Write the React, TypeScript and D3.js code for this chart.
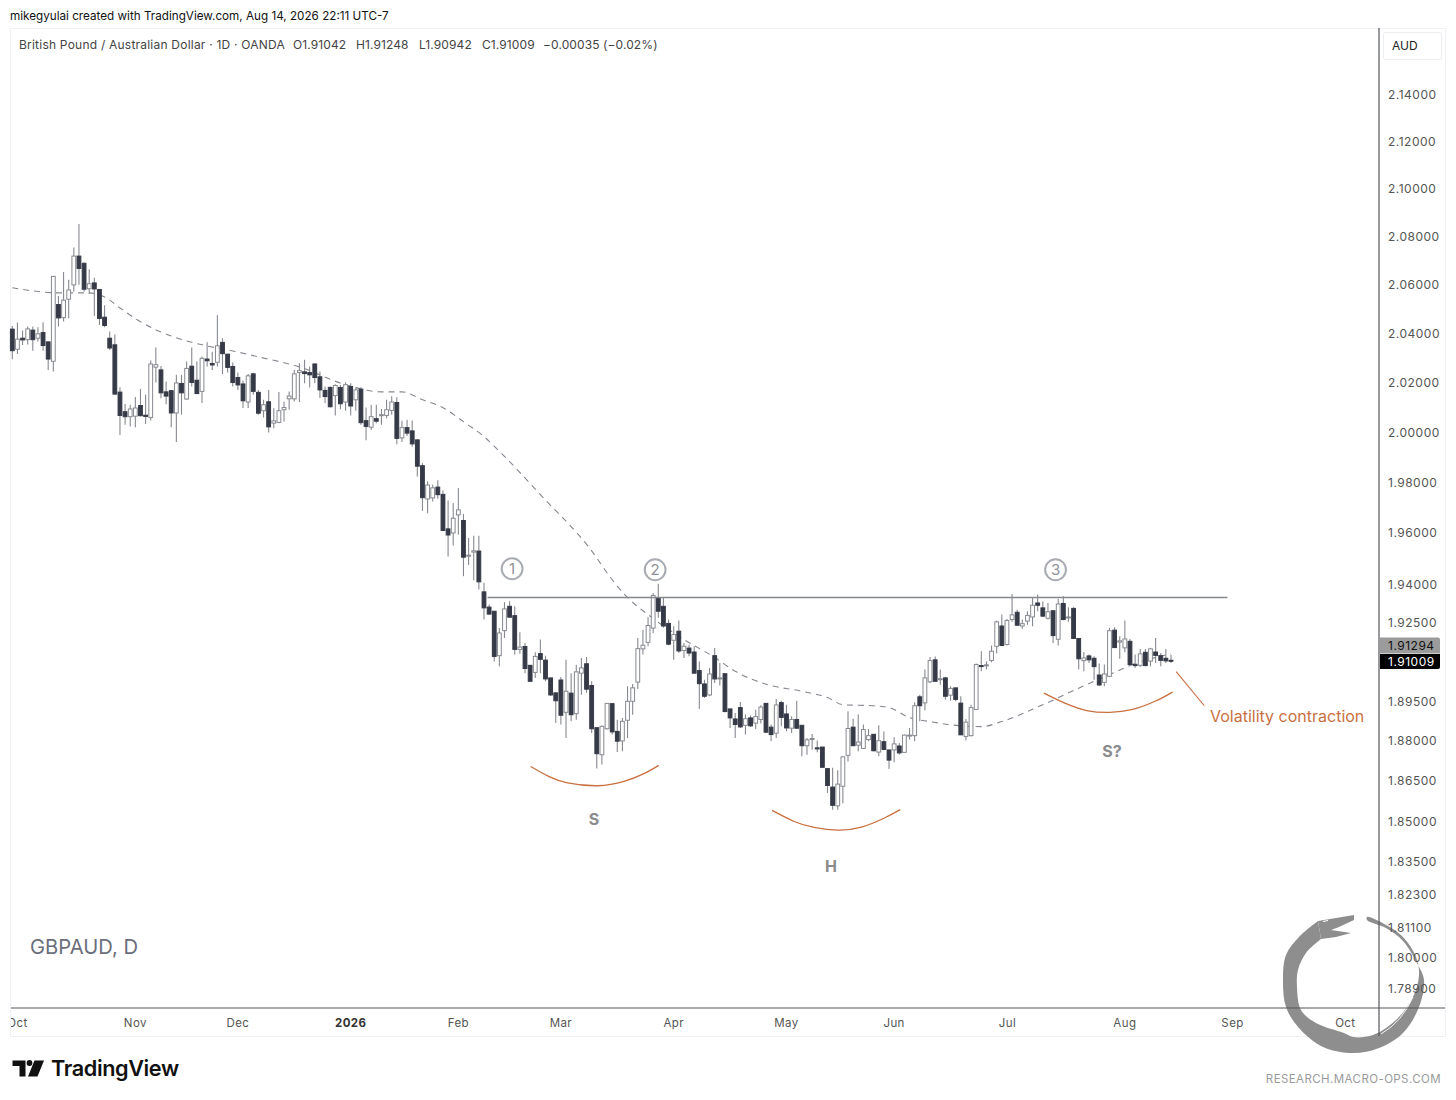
import * as d3 from "d3";

type Row = [number, number, number, number]; // open, high, low, close

const oct25: Row[] = [
  [2.0415,2.0428,2.0292,2.0327],[2.0333,2.0442,2.0314,2.0374],[2.0378,2.0409,2.035,2.0371],[2.0372,2.0426,2.0352,2.0416],
  [2.0411,2.0426,2.0327,2.0372],[2.0378,2.0423,2.0364,2.0396],[2.0401,2.0443,2.0327,2.0348],[2.0363,2.0364,2.0249,2.0293],
  [2.0284,2.0634,2.0242,2.0632],[2.0516,2.0551,2.0426,2.0461],[2.0462,2.065,2.0446,2.0534],[2.0538,2.0618,2.046,2.0576],
  [2.0597,2.0752,2.0569,2.0716],[2.0716,2.085,2.0597,2.0665],[2.0686,2.069,2.0569,2.0579],[2.0581,2.0662,2.0559,2.0602],
  [2.0605,2.0626,2.0469,2.058],[2.0578,2.058,2.0432,2.0459],[2.0464,2.0513,2.0423,2.043],[2.0378,2.0405,2.033,2.0338],
  [2.0351,2.0393,2.0148,2.0151],[2.0159,2.0179,1.9987,2.0065],[2.008,2.0111,2.0028,2.006],[2.006,2.0108,2.0021,2.0091],
];
const nov25: Row[] = [
  [2.0062,2.0139,2.0018,2.0095],[2.0105,2.0172,2.0061,2.0064],[2.0066,2.0148,2.0031,2.0061],[2.0057,2.0287,2.0045,2.0273],
  [2.026,2.034,2.0198,2.027],[2.0249,2.0265,2.0134,2.0156],[2.016,2.0202,2.011,2.0143],[2.0165,2.0168,2.0018,2.0075],
  [2.0075,2.0229,1.9958,2.0196],[2.0194,2.0229,2.0068,2.0156],[2.0131,2.0283,2.0128,2.0255],[2.0264,2.034,2.0182,2.0198],
  [2.0207,2.0283,2.0153,2.0153],[2.0162,2.0303,2.0115,2.0296],[2.0293,2.0361,2.0263,2.0286],[2.0275,2.0323,2.0249,2.0269],
  [2.028,2.0472,2.0263,2.0347],[2.0361,2.0378,2.0232,2.0315],[2.0313,2.0314,2.0238,2.0259],[2.0263,2.0279,2.0182,2.0198],
];
const dec25: Row[] = [
  [2.0218,2.0238,2.0168,2.0188],[2.0192,2.0206,2.0095,2.0124],[2.0119,2.0232,2.0095,2.0225],[2.0233,2.0236,2.0148,2.0162],
  [2.0158,2.0168,2.0068,2.0074],[2.0084,2.0128,2.0057,2.0108],[2.012,2.0168,1.9997,2.0019],[2.0034,2.0094,2.0014,2.0043],
  [2.0037,2.0159,2.0034,2.0084],[2.0088,2.0121,2.0041,2.0097],[2.0132,2.0162,2.0088,2.0143],[2.0132,2.0249,2.0121,2.0233],
  [2.0238,2.0276,2.0119,2.0246],[2.0241,2.029,2.0195,2.0234],[2.0238,2.0263,2.0178,2.0229],[2.0273,2.0275,2.0195,2.0218],
  [2.0221,2.0242,2.0135,2.0168],[2.0166,2.0182,2.0115,2.0141],[2.0178,2.0182,2.0097,2.01],[2.0145,2.0191,2.0065,2.0186],
  [2.0178,2.0188,2.009,2.0112],[2.0119,2.0199,2.0084,2.0189],
];
const jan26: Row[] = [
  [2.0182,2.0195,2.0065,2.0103],[2.0128,2.0179,2.0084,2.0168],[2.0171,2.0179,2.0028,2.0036],[2.0044,2.0097,1.9965,2.0021],
  [2.0018,2.0108,2.0007,2.006],[2.0052,2.0108,2.0034,2.0042],[2.0065,2.0091,2.0028,2.0068],[2.0065,2.0128,2.0054,2.0088],
  [2.0085,2.0142,2.0068,2.0119],[2.0117,2.0138,1.995,1.9973],[1.9975,2.0044,1.9958,2.0016],[2.0016,2.0048,1.9983,1.9994],
  [2.0003,2.0045,1.994,1.9951],[1.9967,1.997,1.9821,1.9862],[1.9864,1.9874,1.9685,1.9737],[1.9732,1.9802,1.9676,1.9787],
  [1.9736,1.9788,1.9722,1.9776],[1.9779,1.9806,1.9733,1.9749],[1.975,1.9765,1.9605,1.9608],[1.9614,1.9726,1.9506,1.959],
  [1.9598,1.9716,1.9549,1.9656],
];
const feb26: Row[] = [
  [1.9669,1.9775,1.9591,1.9689],[1.9647,1.9673,1.9429,1.9503],[1.9507,1.9578,1.9473,1.9511],[1.9523,1.9587,1.9413,1.9528],
  [1.9527,1.9587,1.9377,1.9407],[1.9368,1.9403,1.9261,1.9306],[1.9309,1.9319,1.9278,1.9282],[1.9293,1.9293,1.91,1.9119],
  [1.9122,1.9228,1.9081,1.9209],[1.9218,1.9328,1.919,1.9302],[1.9312,1.9332,1.9268,1.927],[1.9276,1.9312,1.9126,1.9146],
  [1.9146,1.9212,1.913,1.9155],[1.9157,1.9171,1.9055,1.9073],[1.9085,1.9085,1.9024,1.9024],[1.9058,1.9135,1.9037,1.9119],
  [1.913,1.9184,1.9055,1.9108],[1.9105,1.9122,1.9024,1.9033],[1.9037,1.9037,1.8968,1.8972],[1.898,1.898,1.8866,1.895],
];
const mar26: Row[] = [
  [1.9029,1.904,1.886,1.8895],[1.8906,1.9106,1.8809,1.8986],[1.8979,1.9055,1.8872,1.8897],[1.8901,1.9087,1.8878,1.906],
  [1.9055,1.9113,1.8973,1.9075],[1.9091,1.9117,1.898,1.8994],[1.9008,1.9024,1.8828,1.8844],[1.8848,1.8848,1.8694,1.875],
  [1.8746,1.8856,1.8709,1.8853],[1.8844,1.8941,1.8841,1.894],[1.8939,1.8939,1.8822,1.8832],[1.8834,1.8878,1.8756,1.8797],
  [1.8798,1.8885,1.8759,1.8872],[1.8876,1.9005,1.8809,1.8948],[1.8948,1.9014,1.8897,1.8999],[1.9021,1.919,1.8995,1.9149],
  [1.9148,1.9222,1.9126,1.9162],[1.9173,1.927,1.9158,1.9238],[1.9228,1.9364,1.9209,1.9354],[1.9346,1.94,1.9268,1.9293],
  [1.9312,1.9345,1.9229,1.9236],[1.9246,1.9261,1.9162,1.9166],
];
const apr26: Row[] = [
  [1.9181,1.9235,1.9106,1.9203],[1.9216,1.9257,1.9132,1.914],[1.9142,1.9171,1.9113,1.9158],[1.9151,1.9164,1.912,1.9132],
  [1.9136,1.9158,1.9054,1.9055],[1.9065,1.91,1.8919,1.9015],[1.9014,1.903,1.896,1.8967],[1.8972,1.9075,1.8967,1.9052],
  [1.9122,1.9151,1.9018,1.9033],[1.9033,1.9094,1.9008,1.9037],[1.9053,1.9053,1.8906,1.8909],[1.8919,1.8919,1.8847,1.8885],
  [1.8881,1.8904,1.8809,1.886],[1.8924,1.8945,1.8847,1.8851],[1.8857,1.8898,1.8822,1.8882],[1.8885,1.8894,1.8851,1.8855],
  [1.8865,1.8916,1.8843,1.889],[1.8879,1.8933,1.8864,1.8926],[1.894,1.8941,1.8828,1.8831],[1.885,1.886,1.8797,1.8822],
  [1.8827,1.8957,1.8809,1.8934],[1.8943,1.895,1.8853,1.8887],
];
const may26: Row[] = [
  [1.89,1.8935,1.8834,1.8847],[1.8846,1.8891,1.8828,1.8879],[1.8879,1.895,1.8845,1.8846],[1.8857,1.8857,1.874,1.878],
  [1.878,1.8809,1.8746,1.8802],[1.8804,1.8824,1.8765,1.8807],[1.8772,1.88,1.8755,1.8768],[1.8775,1.8775,1.8699,1.8699],
  [1.8694,1.8694,1.8603,1.8631],[1.8625,1.8697,1.8541,1.8557],[1.8555,1.8688,1.8541,1.8636],[1.8628,1.874,1.8565,1.8738],
  [1.8744,1.891,1.8721,1.8845],[1.885,1.8882,1.878,1.878],[1.8782,1.8898,1.8759,1.8794],[1.877,1.886,1.8768,1.8841],
  [1.8803,1.8843,1.8797,1.8818],[1.8823,1.8824,1.8759,1.8761],[1.8756,1.8857,1.874,1.8799],[1.8795,1.8834,1.8763,1.8766],
  [1.8764,1.8765,1.8693,1.8726],
];
const jun26: Row[] = [
  [1.8764,1.8812,1.8718,1.8787],[1.8779,1.879,1.8746,1.8753],[1.8755,1.8822,1.8753,1.882],[1.8817,1.8847,1.8803,1.882],
  [1.8818,1.8944,1.8797,1.8931],[1.8965,1.8973,1.8872,1.8931],[1.8942,1.9069,1.8913,1.9037],[1.9022,1.9117,1.9018,1.9103],
  [1.9106,1.9119,1.9024,1.9024],[1.903,1.9069,1.9011,1.9034],[1.9037,1.9041,1.8954,1.8967],[1.8971,1.9005,1.895,1.8997],
  [1.8999,1.8999,1.8948,1.8955],[1.8941,1.8967,1.8821,1.8821],[1.8815,1.8881,1.88,1.8869],[1.8818,1.8935,1.8815,1.8924],
  [1.8917,1.9092,1.8916,1.9088],[1.9084,1.9139,1.9062,1.9081],[1.9084,1.9101,1.9069,1.9087],[1.9104,1.9161,1.9097,1.9139],
  [1.9158,1.9257,1.913,1.9252],[1.9236,1.928,1.9158,1.9161],
];
const jul26: Row[] = [
  [1.9165,1.9263,1.9161,1.9257],[1.9261,1.936,1.9252,1.9279],[1.9289,1.9299,1.9237,1.9239],[1.9236,1.9261,1.9225,1.9245],
  [1.9255,1.9293,1.9241,1.9277],[1.9271,1.9345,1.9235,1.9316],[1.9325,1.9358,1.9293,1.9316],[1.9306,1.9332,1.9271,1.9274],
  [1.9266,1.9325,1.9261,1.9291],[1.9295,1.9295,1.9171,1.9199],[1.9185,1.9341,1.9161,1.9321],[1.9323,1.9351,1.9258,1.9261],
  [1.9267,1.9308,1.9252,1.9271],[1.9304,1.9308,1.9186,1.9188],[1.9188,1.9188,1.9069,1.911],[1.9103,1.9136,1.9062,1.9113],
  [1.9121,1.9126,1.9094,1.9106],[1.9112,1.912,1.903,1.908],[1.9048,1.9092,1.9007,1.901],[1.902,1.9088,1.9005,1.9052],
  [1.9043,1.9229,1.904,1.9218],[1.922,1.9231,1.9152,1.9153],[1.9174,1.9197,1.911,1.9179],
];
const aug26: Row[] = [
  [1.9152,1.9257,1.9135,1.9186],[1.9177,1.9186,1.9084,1.9088],[1.9089,1.9126,1.9075,1.9084],[1.9085,1.9148,1.9079,1.9129],
  [1.9135,1.9148,1.9081,1.9084],[1.9101,1.9152,1.9081,1.9148],[1.9136,1.919,1.9094,1.9123],[1.9122,1.9132,1.9081,1.9104],
  [1.9112,1.9148,1.9094,1.9102],[1.91042,1.91248,1.90942,1.91009],
];

const maIndexes = [0,4,9,15,18,21,25,31,37,43,48,56,65,72,76,80,84,88,92,96,103,113,117,120,124,131,137,141,147,154,159,162,168,171,175,179,185,189,193,201,209,214,218,226];
const maValues = [2.0585,2.0572,2.0564,2.0564,2.0547,2.0502,2.0445,2.0387,2.0351,2.0326,2.0302,2.0261,2.0189,2.016,2.016,2.0128,2.0096,2.004,1.998,1.9901,1.9749,1.9528,1.9415,1.9346,1.928,1.9184,1.9115,1.9062,1.9013,1.8986,1.8962,1.8935,1.8931,1.8924,1.8886,1.8871,1.8855,1.8852,1.8871,1.8935,1.9007,1.9049,1.9084,1.91294];

const priceTicks = [2.14,2.12,2.1,2.08,2.06,2.04,2.02,2,1.98,1.96,1.94,1.925,1.895,1.88,1.865,1.85,1.835,1.823,1.811,1.8,1.789];
const monthLabels = ["Oct","Nov","Dec","2026","Feb","Mar","Apr","May","Jun","Jul","Aug","Sep","Oct"];
const monthIndexes = [1,24,44,66,87,107,129,151,172,194.1,217,238,260];

const legendParts = ["O1.91042","H1.91248","L1.90942","C1.91009","−0.00035 (−0.02%)"];
const legendLefts = [293,356,419,482,543];

const necklinePrice = 1.9346;
const necklineSpan = [92.7, 237];
const arcS: [number, number][] = [[101.1,1.8702],[104.6,1.8665],[108.3,1.8641],[114.2,1.863],[119.3,1.8646],[123.2,1.8675],[126.1,1.8706]];
const arcH: [number, number][] = [[148.2,1.8538],[152.5,1.8497],[156.4,1.8475],[161,1.8465],[165.6,1.8476],[170.1,1.851],[173.2,1.8541]];
const arcS2: [number, number][] = [[201.2,1.8979],[205.3,1.8941],[209.8,1.8912],[214.1,1.8906],[218.3,1.8916],[222.9,1.8948],[226.3,1.8983]];
const pointer: [number, number][] = [[227,1.9061],[232.5,1.8931]];
const peakLabels = ["1","2","3"];
const peakIndexes = [97.6,125.5,203.6];
const peakPrices = [1.9458,1.9454,1.9454];

const candles = [...oct25,...nov25,...dec25,...jan26,...feb26,...mar26,...apr26,...may26,...jun26,...jul26,...aug26];

const font = "Inter, 'Noto Sans', sans-serif";
const orange = "#c9703f";
const darkCandle = "#363a47";
const wickGrey = "#878991";

const x = d3.scaleLinear().domain([0, 226]).range([12.3, 1171]);
const y = d3.scaleLog().domain([1.789, 2.14]).range([988, 94]);

const maLine = d3.line<number>().x((_, i) => x(maIndexes[i])).y((d) => y(d)).curve(d3.curveMonotoneX);
const arcLine = d3.line<[number, number]>().x((d) => x(d[0])).y((d) => y(d[1])).curve(d3.curveNatural);

// ouroboros watermark: ring traced by hand, head kept as straight edges so the jaw stays sharp
const ringPoints: [number, number][] = [
  [1321,939],[1306,953],[1298,970],[1297,987],[1301,1010],[1316,1023],[1344,1033],[1353,1037],[1373,1035],[1396,1020],
  [1413,997],[1419,975],[1416,957],[1403,937],[1386,925],[1367,917],[1367,920],[1386,928],[1403,941],
  [1418,965],[1424,980],[1419,1007],[1403,1033],[1379,1048],[1353,1053],[1323,1047],[1299,1028],[1286,1007],
  [1283,980],[1286,955],[1299,937],[1318,921],
];
const headPoints: [number, number][] = [
  [1318,921],[1336,918],[1354,915],[1354,920],[1339,927],[1331,930],[1351,933],[1336,937],[1321,939],
];
const ringPath = (d3.line().curve(d3.curveCatmullRom.alpha(0.5))(ringPoints) ?? "") + "Z";
const headPath = (d3.line()(headPoints) ?? "") + "Z";

export default function App() {
  return (
    <svg width={1456} height={1100} style={{ position: "absolute", left: 0, top: 0, display: "block", background: "#fff" }} fontFamily={font}>
      <defs>
        <clipPath id="pane"><rect x={11} y={28} width={1435} height={1008} /></clipPath>
      </defs>
      <text x={10} y={20} fontSize={11.7} fill="#111">mikegyulai created with TradingView.com, Aug 14, 2026 22:11 UTC-7</text>
      <rect x={10.5} y={28.5} width={1435} height={1008} fill="none" stroke="#eef0f4" />

      <path d={ringPath} fill="#8e8e8e" />
      <path d={headPath} fill="#8e8e8e" />
      <path d="M1323 921.5l5-1" stroke="#fff" strokeWidth={1.2} />
      <path d="M1413 997Q1402 1022 1381 1034" fill="none" stroke="#fff" strokeWidth={0.9} />

      <line x1={11} x2={1445} y1={1008} y2={1008} stroke="#55575c" strokeWidth={1.2} />
      <line x1={1379} x2={1379} y1={28} y2={1036} stroke="#55575c" strokeWidth={1.2} />

      <text x={19} y={49} fontSize={12} fill="#444" letterSpacing={0.22}>British Pound / Australian Dollar · 1D · OANDA</text>
      {legendParts.map((t, i) => (
        <text key={t} x={legendLefts[i]} y={49} fontSize={12} fill="#444" letterSpacing={0.1}>{t}</text>
      ))}

      <path d={maLine(maValues) ?? ""} fill="none" stroke="#85878f" strokeWidth={1.1} strokeDasharray="6 5" />

      {candles.map(([o, h, l, c], i) => {
        const up = c >= o;
        const top = y(Math.max(o, c));
        const bot = y(Math.min(o, c));
        return (
          <g key={i}>
            <line x1={x(i)} x2={x(i)} y1={y(h)} y2={y(l)} stroke={wickGrey} strokeWidth={1.1} />
            <rect
              x={x(i) - 1.9}
              y={top}
              width={3.8}
              height={Math.max(bot - top, 1)}
              fill={up ? "#fff" : darkCandle}
              stroke={up ? wickGrey : darkCandle}
              strokeWidth={1}
            />
          </g>
        );
      })}

      <line x1={x(necklineSpan[0])} x2={x(necklineSpan[1])} y1={y(necklinePrice)} y2={y(necklinePrice)} stroke="#85878a" strokeWidth={1.5} />

      {peakLabels.map((t, i) => (
        <g key={t}>
          <circle cx={x(peakIndexes[i]) - 0.6} cy={y(peakPrices[i])} r={10.4} fill="#fff" stroke="#a9abb2" strokeWidth={2} />
          <text x={x(peakIndexes[i]) - 0.6} y={y(peakPrices[i]) + 5.5} fontSize={15} textAnchor="middle" fill="#8f9199">{t}</text>
        </g>
      ))}

      {[arcS, arcH, arcS2].map((a, i) => (
        <path key={i} d={arcLine(a) ?? ""} fill="none" stroke={orange} strokeWidth={1.3} />
      ))}
      <path d={arcLine(pointer) ?? ""} fill="none" stroke={orange} strokeWidth={1.1} />
      <text x={1210} y={722} fontSize={16} fill={orange}>Volatility contraction</text>

      <text x={594} y={825} fontSize={16} fontWeight={700} textAnchor="middle" fill="#8b8b8e">S</text>
      <text x={831} y={872} fontSize={16} fontWeight={700} textAnchor="middle" fill="#8b8b8e">H</text>
      <text x={1112} y={757} fontSize={16} fontWeight={700} textAnchor="middle" fill="#8b8b8e">S?</text>

      <text x={30} y={954} fontSize={20.2} fill="#6b6e7b">GBPAUD, D</text>

      <rect x={1383.5} y={32.5} width={58} height={27} rx={2} fill="#fff" stroke="#eceef2" />
      <text x={1392} y={50} fontSize={12} fill="#222">AUD</text>

      {priceTicks.map((p) => (
        <text key={p} x={1388} y={y(p) + 5} fontSize={12} fill="#555" letterSpacing={0.5}>{p.toFixed(5)}</text>
      ))}

      <path d="M1380 637.5h58a2 2 0 0 1 2 2v14h-60z" fill="#9b9b9b" />
      <text x={1388} y={650} fontSize={12} fill="#111" letterSpacing={0.5}>1.91294</text>
      <path d="M1380 654h60v13a2 2 0 0 1-2 2h-58z" fill="#000" />
      <text x={1388} y={666} fontSize={12} fill="#fff" letterSpacing={0.5}>1.91009</text>

      <g clipPath="url(#pane)">
        {monthLabels.map((t, i) => (
          <text key={i} x={x(monthIndexes[i])} y={1027} fontSize={11.5} textAnchor="middle" fill={t === "2026" ? "#333" : "#555"} fontWeight={t === "2026" ? 700 : 400} letterSpacing={0.4}>{t}</text>
        ))}
      </g>

      <path d="M12.5 1060.5h13v16h-6v-10.5h-7z" fill="#111" />
      <circle cx={29.5} cy={1063} r={2.9} fill="#111" />
      <path d="M34.5 1060.5h9.5l-6.5 16h-9.5z" fill="#111" />
      <text x={51} y={1076} fontSize={21.7} fontWeight={600} fill="#111" letterSpacing={-0.4}>TradingView</text>

      <text x={1441} y={1083} fontSize={11.5} textAnchor="end" fill="#9a9a9a" letterSpacing={0.42}>RESEARCH.MACRO-OPS.COM</text>
    </svg>
  );
}
